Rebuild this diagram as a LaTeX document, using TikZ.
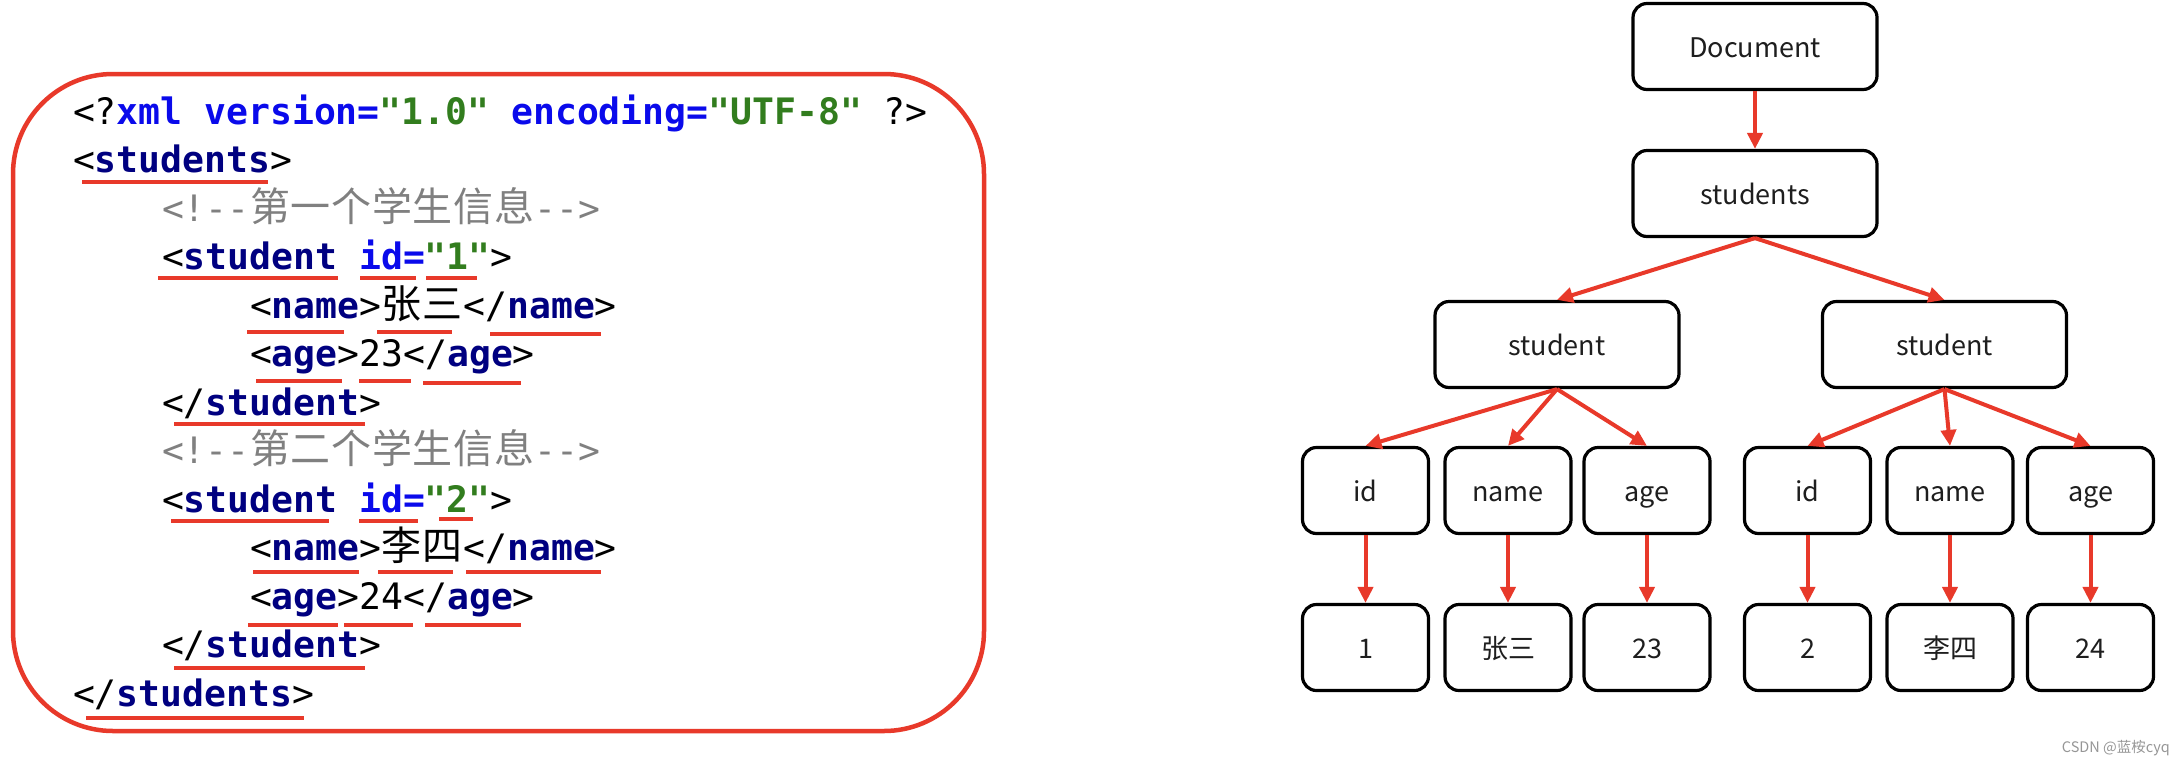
\documentclass[tikz,border=0pt]{standalone}
\usepackage{fontspec}
\usetikzlibrary{arrows.meta}
\newfontfamily\codefont{DejaVu Sans Mono}
\newfontfamily\cjkfont{Noto Sans CJK SC}
\newfontfamily\treefont{Noto Sans CJK SC}
\definecolor{myred}{RGB}{232,57,42}
\definecolor{xnavy}{RGB}{0,0,128}
\definecolor{xblue}{RGB}{10,10,235}
\definecolor{xgreen}{RGB}{50,125,30}
\definecolor{xgray}{RGB}{128,128,128}
\definecolor{treetext}{RGB}{30,30,30}
\definecolor{wmgray}{RGB}{150,150,150}
\newcommand\xnm[1]{\textcolor{xnavy}{\bfseries #1}}
\newcommand\xat[1]{\textcolor{xblue}{\bfseries #1}}
\newcommand\xvl[1]{\textcolor{xgreen}{\bfseries #1}}
\newcommand\xcj[1]{\makebox[41pt][l]{\cjkfont\fontsize{40}{40}\selectfont #1}}
\newcommand\xcc[1]{\makebox[40.7pt][c]{\cjkfont\fontsize{40}{40}\selectfont #1}}
\tikzset{
  box/.style={draw=black, line width=3.2pt, rounded corners=14pt,
    minimum width=244pt, minimum height=86pt, inner sep=0pt,
    text height=22pt, text depth=0pt,
    font=\treefont\fontsize{27}{30}\selectfont, text=treetext},
  leaf/.style={box, minimum width=126pt},
  arr/.style={draw=myred, line width=4pt, -{Triangle[length=16pt,width=15pt]}},
  code/.style={anchor=base west, inner sep=0pt, outer sep=0pt,
    font=\codefont\fontsize{36.4}{40}\selectfont},
  ul/.style={draw=myred, line width=4.5pt},
  frame/.style={draw=myred, line width=4.5pt, rounded corners=100pt}
}
\begin{document}
\begin{tikzpicture}[x=1pt,y=-1pt]
\useasboundingbox (0,0) rectangle (2182,764);
% left code panel
\draw[frame] (13,74) rectangle (984,731);
\node[code] (l1) at (73,124) {<?\xat{xml version=}\xvl{"1.0"} \xat{encoding=}\xvl{"UTF-8"} ?>};
\node[code] (l2) at (73,172.5) {<\xnm{students}>};
\node[code] (l3) at (162,221) {\color{xgray}<!-\kern0pt-\xcc{第}\xcc{一}\xcc{个}\xcc{学}\xcc{生}\xcc{信}\xcc{息}-\kern0pt->};
\node[code] (l4) at (162,269.5) {<\xnm{student} \xat{id=}\xvl{"1"}>};
\node[code] (l5) at (250,318) {<\xnm{name}>\xcj{张}\xcj{三}</\xnm{name}>};
\node[code] (l6) at (250,366.5) {<\xnm{age}>23</\xnm{age}>};
\node[code] (l7) at (162,415) {</\xnm{student}>};
\node[code] (l8) at (162,463.5) {\color{xgray}<!-\kern0pt-\xcc{第}\xcc{二}\xcc{个}\xcc{学}\xcc{生}\xcc{信}\xcc{息}-\kern0pt->};
\node[code] (l9) at (162,512) {<\xnm{student} \xat{id=}\xvl{"2"}>};
\node[code] (l10) at (250,560.5) {<\xnm{name}>\xcj{李}\xcj{四}</\xnm{name}>};
\node[code] (l11) at (250,609) {<\xnm{age}>24</\xnm{age}>};
\node[code] (l12) at (162,657.5) {</\xnm{student}>};
\node[code] (l13) at (73,706) {</\xnm{students}>};
% underlines
\draw[ul] (82,182) -- (268,182);
\draw[ul] (158,278) -- (338,278);
\draw[ul] (360,278) -- (416,278);
\draw[ul] (426,278) -- (477,278);
\draw[ul] (247,332) -- (344,332);
\draw[ul] (377,332) -- (452,332);
\draw[ul] (490,334) -- (601,334);
\draw[ul] (256,381) -- (342,381);
\draw[ul] (359,381) -- (411,381);
\draw[ul] (423,383) -- (521,383);
\draw[ul] (174,424) -- (365,424);
\draw[ul] (171,521) -- (329,521);
\draw[ul] (359,521) -- (418,521);
\draw[ul] (439,519) -- (473,519);
\draw[ul] (253,572) -- (359,572);
\draw[ul] (378,572) -- (453,572);
\draw[ul] (466,572) -- (601,572);
\draw[ul] (248,625) -- (338,625);
\draw[ul] (344,625) -- (413,625);
\draw[ul] (425,625) -- (521,625);
\draw[ul] (174,668) -- (365,668);
\draw[ul] (86,718) -- (304,718);
% tree
\node[box] (doc) at (1755,46.5) {Document};
\node[box] (sts) at (1755,193.5) {students};
\node[box] (stL) at (1557,344.5) {student};
\node[box] (stR) at (1944.5,344.5) {student};
\node[leaf] (idL) at (1365.5,490.5) {id};
\node[leaf] (nmL) at (1508,490.5) {name};
\node[leaf] (agL) at (1647,490.5) {age};
\node[leaf] (idR) at (1807.5,490.5) {id};
\node[leaf] (nmR) at (1950,490.5) {name};
\node[leaf] (agR) at (2090.5,490.5) {age};
\node[leaf] (v1) at (1365.5,647.5) {1};
\node[leaf] (vz) at (1508,647.5) {张三};
\node[leaf] (v23) at (1647,647.5) {23};
\node[leaf] (v2) at (1807.5,647.5) {2};
\node[leaf] (vl) at (1950,647.5) {李四};
\node[leaf] (v24) at (2090.5,647.5) {24};
\draw[arr] (doc.south) -- (sts.north);
\draw[arr] (sts.south) -- (stL.north);
\draw[arr] (sts.south) -- (stR.north);
\draw[arr] (stL.south) -- (idL.north);
\draw[arr] (stL.south) -- (nmL.north);
\draw[arr] (stL.south) -- (agL.north);
\draw[arr] (stR.south) -- (idR.north);
\draw[arr] (stR.south) -- (nmR.north);
\draw[arr] (stR.south) -- (agR.north);
\draw[arr] (idL.south) -- (v1.north);
\draw[arr] (nmL.south) -- (vz.north);
\draw[arr] (agL.south) -- (v23.north);
\draw[arr] (idR.south) -- (v2.north);
\draw[arr] (nmR.south) -- (vl.north);
\draw[arr] (agR.south) -- (v24.north);
\node[anchor=base east, inner sep=0pt, text=wmgray, font=\treefont\fontsize{14.5}{16}\selectfont] (wm) at (2170,752) {CSDN @蓝桉cyq};
\end{tikzpicture}
\end{document}
